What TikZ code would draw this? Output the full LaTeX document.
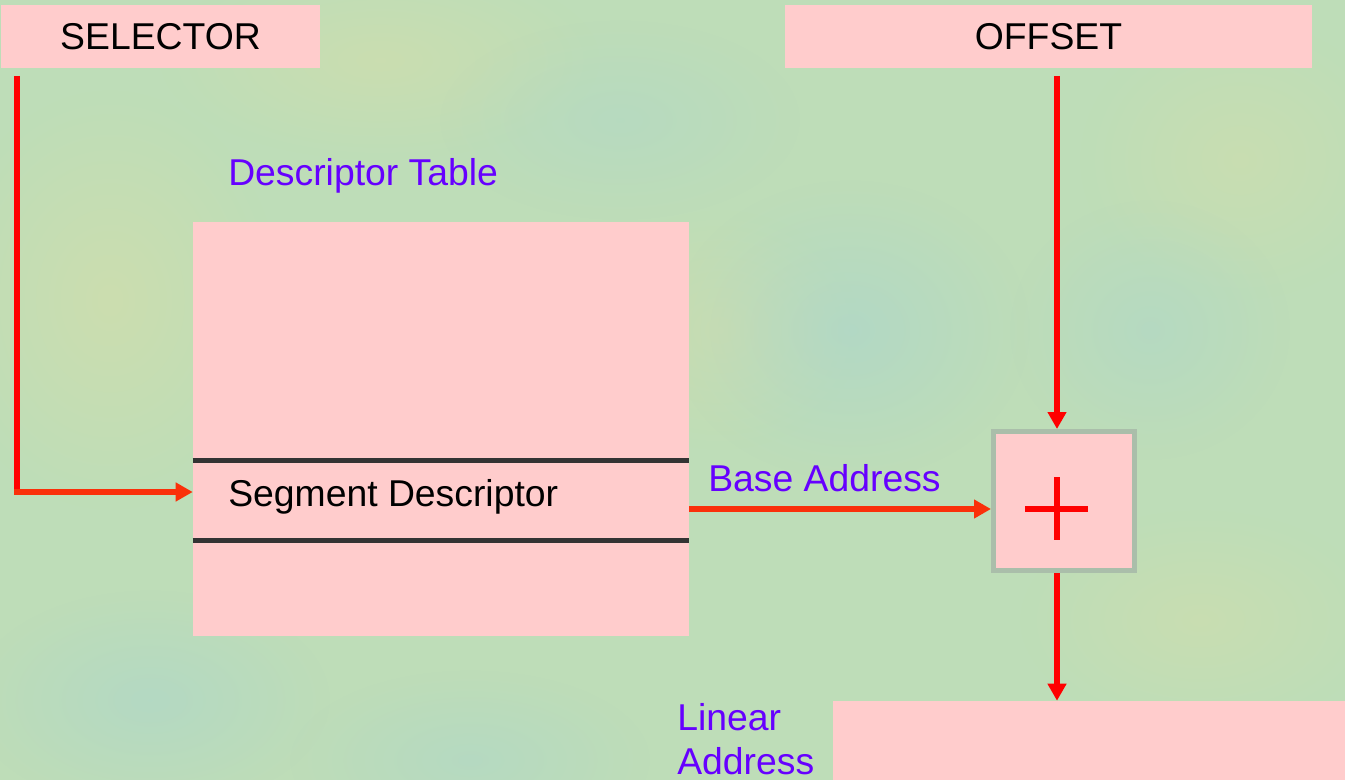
\documentclass[tikz,border=0pt]{standalone}
\usepackage{fontspec}
\setmainfont{Liberation Sans}
\usetikzlibrary{arrows.meta,fadings,calc}

\definecolor{bg}{RGB}{190,221,184}
\definecolor{bgwarm}{RGB}{212,222,170}
\definecolor{bgcool}{RGB}{172,214,204}
\definecolor{boxpink}{RGB}{255,204,204}
\definecolor{labelpurple}{RGB}{102,0,255}
\definecolor{linkred}{RGB}{255,0,0}
\definecolor{linkorange}{RGB}{250,48,10}
\definecolor{rowrule}{RGB}{51,51,51}
\definecolor{adderedge}{RGB}{170,190,170}

% soft radial spot for the mottled backdrop
\tikzfading[name=softspot, inner color=transparent!20, outer color=transparent!100]

\begin{document}
\begin{tikzpicture}[x=0.75pt,y=-0.75pt,
  every node/.style={font=\fontsize{28}{33.5}\selectfont, inner sep=0pt},
  pinkbox/.style={rectangle, fill=boxpink, draw=none},
  caption/.style={text=labelpurple},
  link/.style={line width=4.3pt},
  tip/.style={-{Triangle[length=12.75pt,width=13.5pt]}},
  blot/.style={path fading=softspot}]

  \useasboundingbox (0,0) rectangle (1345,780);

  % textured backdrop: base tone with soft warm and cool patches
  \fill[bg] (0,0) rectangle (1345,780);
  \fill[bgwarm, opacity=0.8, blot] (110,300) ellipse (170 and 210);
  \fill[bgwarm, opacity=0.7, blot] (380,60) ellipse (220 and 100);
  \fill[bgwarm, opacity=0.7, blot] (720,330) ellipse (140 and 120);
  \fill[bgwarm, opacity=0.6, blot] (1240,160) ellipse (160 and 140);
  \fill[bgwarm, opacity=0.6, blot] (1200,620) ellipse (180 and 110);
  \fill[bgcool, opacity=0.8, blot] (850,330) ellipse (180 and 150);
  \fill[bgcool, opacity=0.6, blot] (1150,330) ellipse (140 and 130);
  \fill[bgcool, opacity=0.7, blot] (150,700) ellipse (180 and 110);
  \fill[bgcool, opacity=0.6, blot] (470,760) ellipse (180 and 90);
  \fill[bgcool, opacity=0.5, blot] (620,120) ellipse (180 and 100);

  % input registers
  \node[pinkbox, minimum width=319*0.75pt, minimum height=63*0.75pt] (sel) at (160.5,36.5) {SELECTOR};
  \node[pinkbox, minimum width=527*0.75pt, minimum height=63*0.75pt] (off) at (1048.5,36.5) {OFFSET};

  % descriptor table with the selected entry
  \node[caption, anchor=base west] (tabcap) at (228,186) {Descriptor Table};
  \node[pinkbox, minimum width=496*0.75pt, minimum height=414*0.75pt] (tab) at (441,429) {};
  \draw[rowrule, line width=3.75pt] ($(tab.north west)+(0,239)$) -- ($(tab.north east)+(0,239)$);
  \draw[rowrule, line width=3.75pt] ($(tab.north west)+(0,319)$) -- ($(tab.north east)+(0,319)$);
  \node[anchor=base west] (segdesc) at (228,506) {Segment Descriptor};

  % adder
  \node[pinkbox, draw=adderedge, line width=3.75pt, minimum width=141*0.75pt, minimum height=139*0.75pt] (add) at (1064,501) {};
  \draw[linkred, line width=4.5pt] ($(add.center)+(-39,8)$) -- ($(add.center)+(24,8)$);
  \draw[linkred, line width=4.5pt] ($(add.center)+(-7,-24)$) -- ($(add.center)+(-7,39)$);

  % linear address output
  \node[pinkbox, minimum width=512*0.75pt, minimum height=79*0.75pt] (lin) at (1089,740.5) {};
  \node[caption, anchor=north west, align=left] (lincap) at (677,703) {Linear\\Address};

  % connectors
  \coordinate (selstart) at (17,76);
  \coordinate (selbend) at (17,492);
  \draw[link, linkred] (selstart) -- ($(selbend)+(0,3)$);
  \draw[link, linkorange, tip] ($(selbend)+(-3,0)$) -- (selbend -| tab.west);

  \coordinate (baseout) at ($(tab.east)+(0,80)$);
  \draw[link, linkorange, tip] (baseout) -- (baseout -| add.west);
  \node[caption, anchor=base west] (basecap) at (708,491) {Base Address};

  \coordinate (offstart) at (1057,76);
  \draw[link, linkred, tip] (offstart) -- (offstart |- add.north);

  \coordinate (sumout) at (add.south -| offstart);
  \draw[link, linkred, tip] (sumout) -- (sumout |- lin.north);
\end{tikzpicture}
\end{document}
